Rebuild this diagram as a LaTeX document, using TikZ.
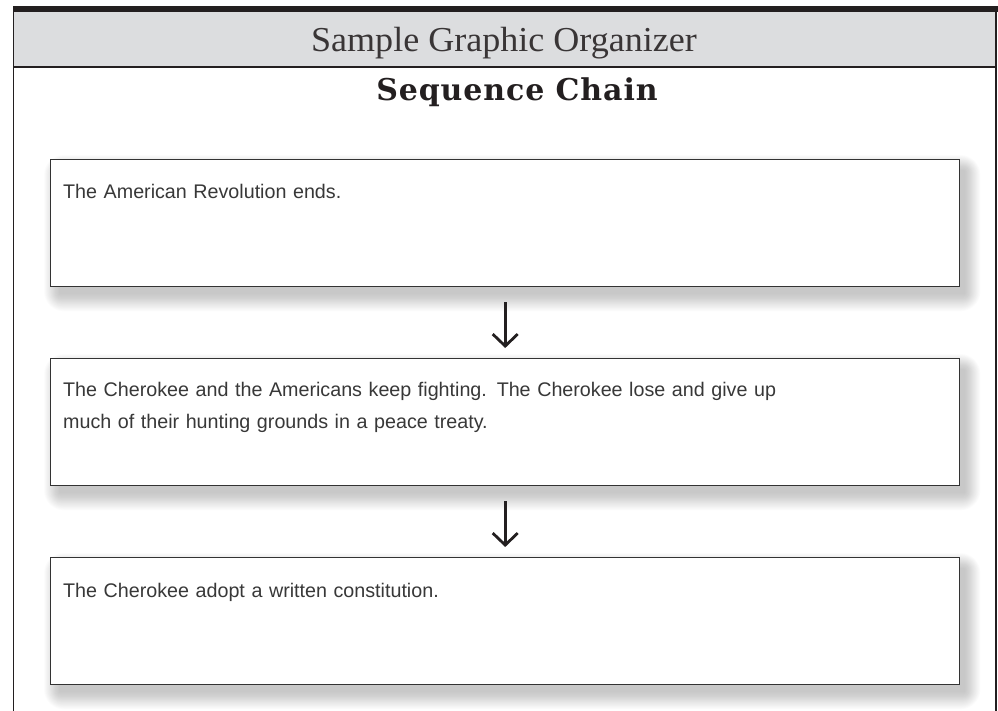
\documentclass[tikz,border=0pt]{standalone}
\usepackage{fontspec}
\setmainfont{Liberation Serif}
\newfontfamily\bodyfont{Liberation Sans}
\newfontfamily\titlefont[LetterSpace=3]{DejaVu Serif}
\usetikzlibrary{arrows.meta}
\pgfdeclarelayer{background}
\pgfsetlayers{background,main}
\definecolor{framecol}{HTML}{231F20}
\definecolor{headgray}{HTML}{DCDDDF}
\definecolor{boxline}{HTML}{333333}
\tikzset{
  seqbox/.style={draw=boxline, line width=1.4pt, fill=white, minimum width=909pt, minimum height=127pt, inner sep=0pt, anchor=north west},
  boxtext/.style={font=\bodyfont\fontsize{19.7}{32}\selectfont, text=black!78, anchor=base west, inner sep=0pt, align=left, text width=880pt},
  seqarrow/.style={line width=2.8pt, draw=framecol, -{Straight Barb[length=12pt,width=25pt,line width=2.8pt]}, shorten <=15pt, shorten >=10pt}
}
\begin{document}
\begin{tikzpicture}[x=1pt,y=-1pt]
\useasboundingbox (0,0) rectangle (998,711);
% header
\fill[headgray] (13.5,12) rectangle (996,67);
\fill[framecol] (13,6) rectangle (998,12.5);
\draw[framecol, line width=1.5pt] (13.5,12) -- (13.5,711);
\draw[framecol, line width=1.5pt] (996,12) -- (996,711);
\draw[framecol, line width=1.5pt] (13.5,67) -- (996,67);
\node[anchor=base, inner sep=0pt, font=\fontsize{35}{35}\selectfont, text=framecol!90] (head) at (504,52) {\scalebox{1.03}[1]{Sample Graphic Organizer}};
\node[anchor=base, inner sep=0pt, font=\titlefont\bfseries\fontsize{30}{30}\selectfont, text=framecol] (title) at (517,101) {Sequence Chain};
% boxes
\node[seqbox] (b1) at (50,159) {};
\node[seqbox] (b2) at (50,358) {};
\node[seqbox] (b3) at (50,557) {};
\begin{pgfonlayer}{background}
\foreach \b in {b1,b2,b3}{
  \foreach \r in {1,...,20}{
    \fill[black, opacity=0.013, rounded corners=\r pt] ([shift={(10-\r*0.8,12-\r*0.8)}]\b.north west) rectangle ([shift={(4+\r*0.8,6+\r*0.9)}]\b.south east);
  }
}
\end{pgfonlayer}
\node[boxtext] (t1) at (63,199) {The American Revolution ends.};
\node[boxtext] (t2) at (63,396) {The Cherokee and the Americans keep fighting. The Cherokee lose and give up\\much of their hunting grounds in a peace treaty.};
\node[boxtext] (t3) at (63,597) {The Cherokee adopt a written constitution.};
\draw[seqarrow] (b1.south) -- (b2.north);
\draw[seqarrow] (b2.south) -- (b3.north);
\end{tikzpicture}
\end{document}
